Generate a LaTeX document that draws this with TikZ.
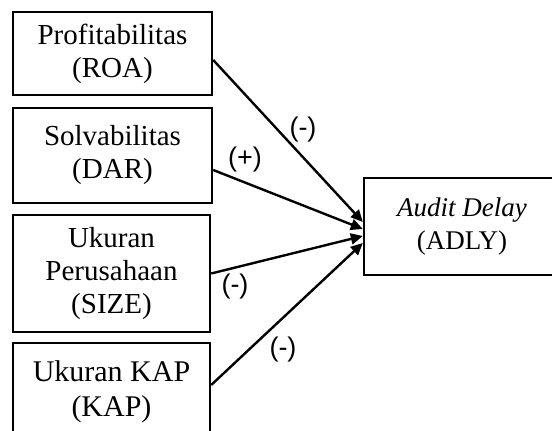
\documentclass[tikz,border=0pt]{standalone}
\usepackage{fontspec}
\setmainfont{Liberation Serif}
\newfontfamily\lblfont{Liberation Sans}
\usetikzlibrary{arrows.meta, positioning}

\begin{document}
\begin{tikzpicture}[x=0.5pt,y=-0.5pt,line width=1.2pt,
    var/.style={draw,rectangle,align=center,inner sep=0pt,
      font=\fontsize{14.5}{16.5}\selectfont},
    sign/.style={font=\lblfont\fontsize{13.5}{15}\selectfont,inner sep=0pt},
    >={Triangle[length=6pt,width=5.5pt]}]
      \useasboundingbox (0,0) rectangle (552,431);
      \node[var,minimum width=99.5pt,minimum height=41.5pt] (roa) at (112.5,53.5) {Profitabilitas\\(ROA)};
      \node[var,minimum width=99.5pt,minimum height=47.5pt] (dar) at (112.5,155.5) {Solvabilitas\\(DAR)};
      \node[var,minimum width=98.5pt,minimum height=58.5pt] (size) at (111.5,273.5) {Ukuran\\Perusahaan\\(SIZE)};
      \node[var,minimum width=98.5pt,minimum height=48.5pt,
        font=\fontsize{15}{17.5}\selectfont] (kap) at (111.5,391.5) {Ukuran KAP\\(KAP)};
      \node[var,minimum width=98pt,minimum height=48.5pt,
        font=\fontsize{13.5}{16.5}\selectfont] (adly) at (462,226.5) {\textit{Audit Delay}\\(ADLY)};
      \path[->] ([yshift=-3.25pt]roa.east) edge ([yshift=2.25pt]adly.west)
      ([yshift=-7.25pt]dar.east) edge ([yshift=-1.25pt]adly.west)
      (size.east) edge ([yshift=-4.75pt]adly.west)
      ([yshift=3.25pt]kap.east) edge ([yshift=-8.25pt]adly.west);
      \node[sign] (s1) at (303,130) {(-)};
      \node[sign] (s2) at (245,160) {(+)};
      \node[sign] (s3) at (235,287) {(-)};
      \node[sign] (s4) at (283,350) {(-)};
    \end{tikzpicture}
\end{document}
